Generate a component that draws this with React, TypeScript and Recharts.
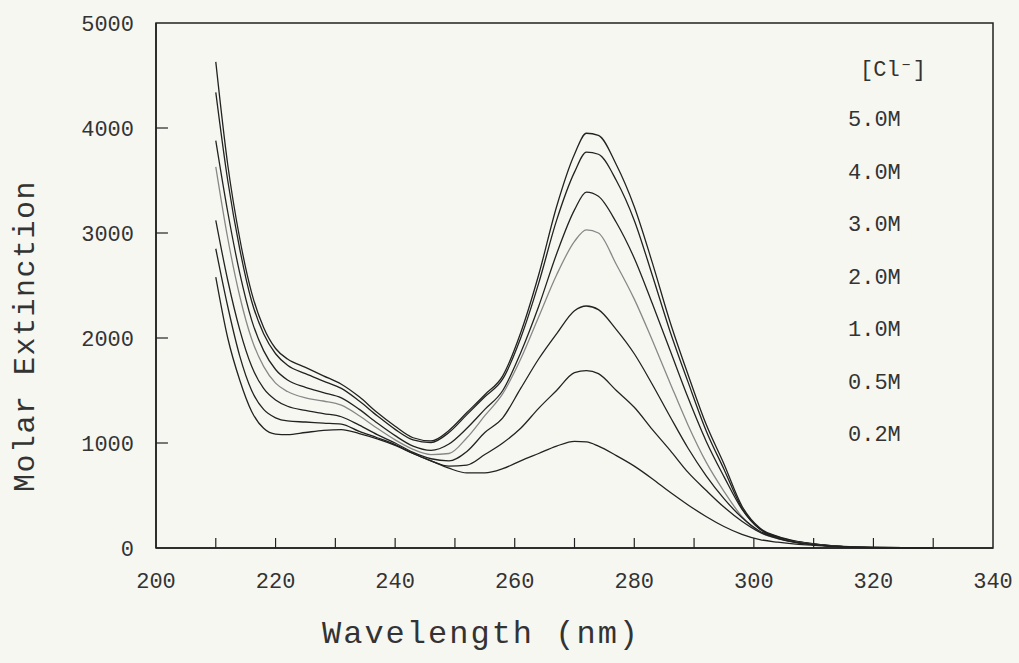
import React from 'react';
import { LineChart, Line, XAxis, YAxis, ReferenceLine, ReferenceArea } from 'recharts';

// wavelength grid (nm) shared by every spectrum
const wavelengths = [210, 212, 214, 216, 218, 220, 222, 225, 228, 231, 234, 237, 240, 243, 246, 249, 252, 255, 258, 261, 264, 267, 270, 272, 274, 277, 280, 283, 286, 289, 292, 295, 298, 301, 304, 307, 310, 315, 320, 330];

// molar extinction, one list per chloride concentration
const cl50 = [4630, 3650, 2950, 2430, 2100, 1900, 1800, 1720, 1640, 1560, 1440, 1290, 1160, 1050, 1020, 1120, 1290, 1460, 1640, 2050, 2600, 3250, 3750, 3950, 3930, 3650, 3250, 2720, 2150, 1650, 1180, 800, 400, 190, 110, 65, 40, 15, 5, 0];
const cl40 = [4340, 3500, 2850, 2350, 2040, 1850, 1740, 1660, 1590, 1520, 1400, 1260, 1130, 1030, 1005, 1100, 1270, 1440, 1610, 2000, 2520, 3120, 3580, 3770, 3750, 3500, 3120, 2600, 2060, 1580, 1120, 750, 380, 180, 105, 62, 38, 14, 5, 0];
const cl30 = [3880, 3200, 2620, 2170, 1880, 1700, 1600, 1530, 1480, 1430, 1320, 1190, 1070, 970, 930, 990, 1140, 1320, 1500, 1860, 2300, 2800, 3220, 3390, 3350, 3100, 2760, 2330, 1880, 1430, 1020, 680, 370, 180, 100, 60, 36, 13, 5, 0];
const cl20 = [3630, 2950, 2400, 1990, 1730, 1570, 1490, 1430, 1400, 1360, 1260, 1140, 1030, 940, 890, 900, 1050, 1260, 1470, 1800, 2200, 2600, 2920, 3030, 3000, 2700, 2370, 1980, 1570, 1170, 820, 540, 300, 150, 90, 55, 33, 12, 4, 0];
const cl10 = [3120, 2550, 2080, 1730, 1520, 1410, 1350, 1310, 1280, 1250, 1170, 1080, 1000, 910, 850, 830, 920, 1100, 1240, 1520, 1800, 2040, 2260, 2305, 2270, 2080, 1850, 1560, 1250, 950, 690, 470, 290, 160, 95, 55, 33, 12, 4, 0];
const cl05 = [2850, 2300, 1830, 1500, 1320, 1240, 1210, 1200, 1190, 1180, 1110, 1050, 985, 900, 830, 780, 790, 890, 1000, 1140, 1330, 1500, 1670, 1690, 1660, 1500, 1340, 1130, 930, 720, 550, 390, 255, 150, 90, 52, 32, 12, 4, 0];
const cl02 = [2580, 2000, 1600, 1300, 1140, 1085, 1080, 1100, 1120, 1128, 1090, 1040, 978, 900, 830, 760, 715, 715, 755, 830, 900, 970, 1016, 1010, 970, 880, 780, 660, 530, 410, 300, 205, 130, 80, 55, 37, 25, 10, 4, 0];

const seriesKeys = ['c50', 'c40', 'c30', 'c20', 'c10', 'c05', 'c02'];
const seriesLabels = ['5.0M', '4.0M', '3.0M', '2.0M', '1.0M', '0.5M', '0.2M'];
const seriesColors = ['#222', '#222', '#222', '#888', '#222', '#222', '#222'];

const xTicks = [200, 220, 240, 260, 280, 300, 320, 340];
const xMinorTicks = [210, 220, 230, 240, 250, 260, 270, 280, 290, 300, 310, 320, 330];
const yTicks = [0, 1000, 2000, 3000, 4000, 5000];
const yInnerTicks = [1000, 2000, 3000, 4000];

const rows = wavelengths.map((w, i) => ({
  w,
  c50: cl50[i],
  c40: cl40[i],
  c30: cl30[i],
  c20: cl20[i],
  c10: cl10[i],
  c05: cl05[i],
  c02: cl02[i],
}));

const FONT = '"Liberation Mono", "DejaVu Sans Mono", monospace';
const BG = '#f7f7f2';
const INK = '#333';

export default function App() {
  return (
    <div style={{ position: 'relative', width: 1019, height: 663, background: BG, fontFamily: FONT }}>
      <style>{`body{margin:0;background:${BG}}`}</style>
      <LineChart width={1019} height={663} data={rows} margin={{ top: 23, right: 26, bottom: 0, left: 0 }}>
        <XAxis
          dataKey="w"
          type="number"
          domain={[200, 340]}
          ticks={xTicks}
          height={115}
          tickSize={0}
          tickMargin={24}
          tickLine={false}
          axisLine={{ stroke: '#222', strokeWidth: 1.5 }}
          tick={{ fontSize: 22, fontFamily: FONT, fill: INK }}
        />
        <YAxis
          type="number"
          domain={[0, 5000]}
          ticks={yTicks}
          width={156}
          tickSize={0}
          tickMargin={22}
          tickLine={false}
          axisLine={{ stroke: '#222', strokeWidth: 1.5 }}
          tick={{ fontSize: 22, fontFamily: FONT, fill: INK }}
        />
        <ReferenceArea x1={200} x2={340} y1={0} y2={5000} fill="none" stroke="#222" strokeWidth={1.5} ifOverflow="visible" />
        {xMinorTicks.map((t) => (
          <ReferenceLine key={'xt' + t} segment={[{ x: t, y: 0 }, { x: t, y: 95 }]} stroke="#222" strokeWidth={1.2} ifOverflow="visible" />
        ))}
        {yInnerTicks.map((t) => (
          <ReferenceLine key={'yt' + t} segment={[{ x: 200, y: t }, { x: 202, y: t }]} stroke="#222" strokeWidth={1.2} ifOverflow="visible" />
        ))}
        {seriesKeys.map((k, i) => (
          <Line
            key={k}
            dataKey={k}
            type="monotone"
            stroke={seriesColors[i]}
            strokeWidth={1.3}
            dot={false}
            activeDot={false}
            isAnimationActive={false}
          />
        ))}
      </LineChart>

      <div style={{ position: 'absolute', left: 860, top: 56, fontSize: 22, color: INK }}>[Cl⁻]</div>
      {seriesLabels.map((s, i) => (
        <div key={s} style={{ position: 'absolute', left: 848, top: 108 + i * 52.5, fontSize: 22, color: INK }}>
          {s}
        </div>
      ))}

      <div style={{ position: 'absolute', left: 322, top: 616, fontSize: 32, letterSpacing: 2, color: INK, whiteSpace: 'nowrap' }}>
        Wavelength (nm)
      </div>
      <div
        style={{
          position: 'absolute',
          left: 26,
          top: 336,
          fontSize: 30,
          letterSpacing: 1.5,
          color: INK,
          whiteSpace: 'nowrap',
          transform: 'translate(-50%, -50%) rotate(-90deg)',
        }}
      >
        Molar Extinction
      </div>
    </div>
  );
}
